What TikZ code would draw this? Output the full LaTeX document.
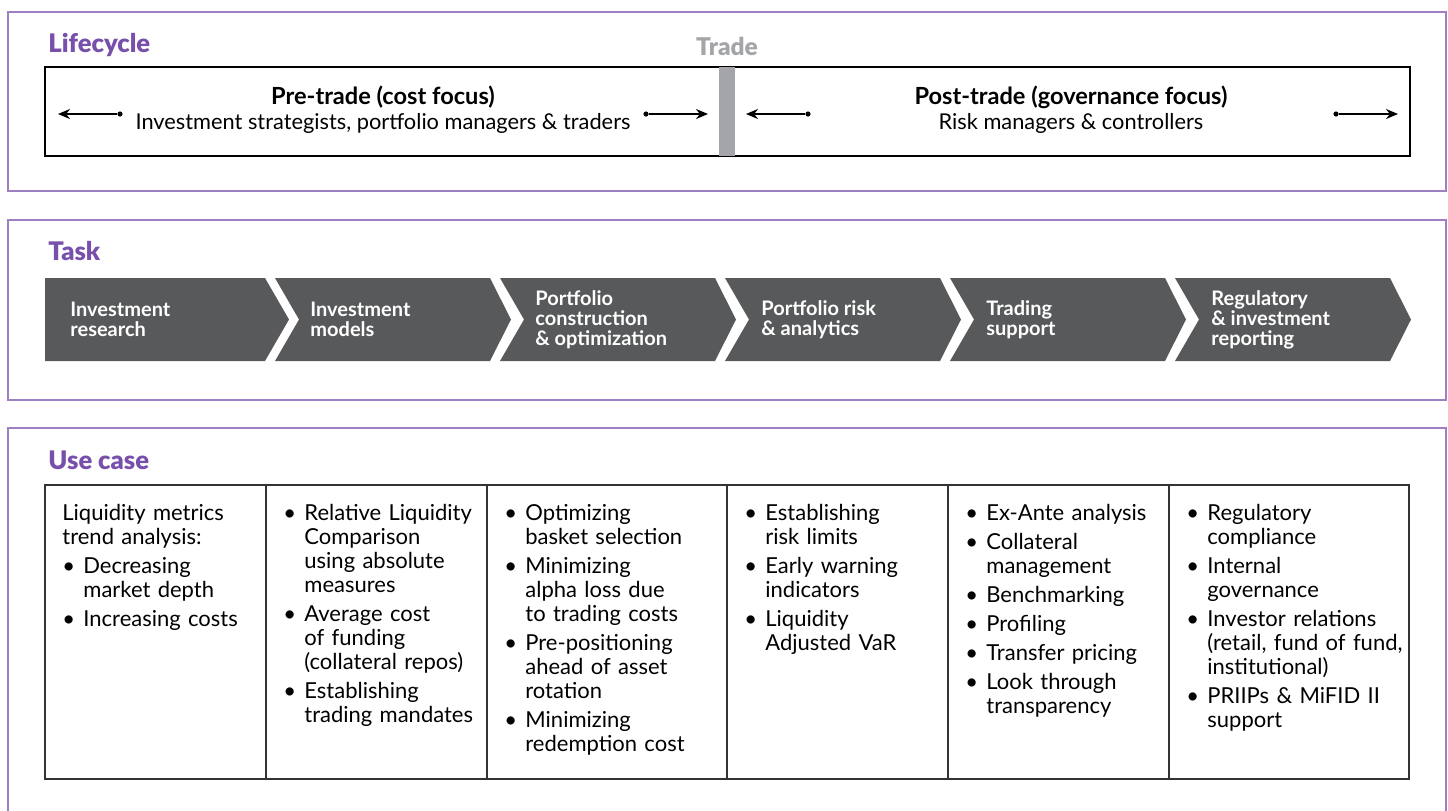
\documentclass[tikz,border=0pt]{standalone}
\usepackage{fontspec}
\setmainfont{Lato}
\newfontfamily\heavyfont{Lato Black}
\usetikzlibrary{arrows,arrows.meta,positioning}
\definecolor{ucpurple}{HTML}{7850AC}
\definecolor{ucframe}{HTML}{9C80C2}
\definecolor{ucgrey}{HTML}{A3A5A8}
\definecolor{ucchev}{HTML}{58595B}
\definecolor{ucline}{HTML}{333333}
\tikzstyle{Apanel}=[draw=ucframe,line width=0.75pt]
\tikzstyle{Ahead}=[anchor=base west,inner sep=0,text=ucpurple,font=\fontsize{12.8}{15}\selectfont\heavyfont]
\tikzstyle{Atrade}=[anchor=base,inner sep=0,text=ucgrey,font=\fontsize{12.2}{14}\selectfont\heavyfont]
\tikzstyle{Abox}=[draw=black,line width=0.6pt]
\tikzstyle{Aphase}=[align=center,inner sep=0,font=\fontsize{10.9}{12.5}\selectfont]
\tikzstyle{Adot}=[circle,fill=black,inner sep=0,minimum size=2.6pt]
\tikzstyle{lc}=[->,>={Stealth[length=6pt,width=5pt]},line width=0.75pt]
\tikzstyle{Achev}=[fill=ucchev]
\tikzstyle{Atask}=[anchor=west,align=left,inner sep=0,text=white,font=\fontsize{10}{10}\selectfont\bfseries]
\tikzstyle{Agrid}=[draw=ucline,line width=0.75pt]
\tikzstyle{Acell}=[anchor=north west,inner sep=0,text width=120pt,align=left,font=\fontsize{11}{12}\selectfont]
\newcommand{\fitem}[1]{\noindent\hangindent=10.5pt\hangafter=1\makebox[10.5pt][l]{\textbullet}#1\par}
\newcommand{\bitem}[1]{\vskip2.5pt\relax\fitem{#1}}
\begin{document}
\begin{tikzpicture}[x=0.5pt,y=-0.5pt]
  \useasboundingbox (0,0) rectangle (1448,810);
  % lifecycle
  \draw[Apanel] (8,12) rectangle (1446,191);
  \node[Ahead] (lifecycle) at (48,52) {Lifecycle};
  \node[Atrade] (trade) at (727,55) {Trade};
  \draw[Abox] (45,67) rectangle (1410,156);
  \fill[ucgrey] (719,67) rectangle (735,156);
  \node[Aphase] (pre) at (383,109.5) {{\fontsize{11.8}{12.5}\selectfont\bfseries Pre-trade (cost focus)}\\Investment strategists, portfolio managers \& traders};
  \node[Aphase] (post) at (1071,109.5) {{\fontsize{11.8}{12.5}\selectfont\bfseries Post-trade (governance focus)}\\Risk managers \& controllers};
  \node[Adot] (d1) at (120,114) {};
  \node[Adot] (d2) at (646,114) {};
  \node[Adot] (d3) at (808,114) {};
  \node[Adot] (d4) at (1336,114) {};
  \coordinate (h1) at (58,114);
  \coordinate (h2) at (708,114);
  \coordinate (h3) at (746,114);
  \coordinate (h4) at (1398,114);
  \foreach \i in {1,...,4}
    \draw[lc] (d\i) -- (h\i);
  % task
  \draw[Apanel] (8,220) rectangle (1446,400);
  \node[Ahead] (task) at (48,260) {Task};
  \fill[Achev] (45,278) -- (265,278) -- (289,319.5) -- (265,361) -- (45,361) -- cycle;
  \foreach \k in {1,...,5}{
    \pgfmathsetmacro\a{50+225*\k}
    \fill[Achev] (\a,278) -- (\a+215,278) -- (\a+236,319.5) -- (\a+215,361) -- (\a,361) -- (\a+24,319.5) -- cycle;
  }
  \foreach \k/\tx/\txt in {0/70/{Investment\\research},1/310/{Investment\\models},
      2/535/{Portfolio\\construction\\\& optimization},3/761/{Portfolio risk\\\& analytics},
      4/986/{Trading\\support},5/1211/{Regulatory\\\& investment\\reporting}}
    \node[Atask] (t\k) at (\tx,319.5) {\txt};
  % use case
  \draw[Apanel] (8,812) -- (8,428) -- (1446,428) -- (1446,812);
  \node[Ahead] (usecase) at (48,469) {Use case};
  \draw[Agrid] (45,485) rectangle (1409,779);
  \foreach \c in {266,487,727,948,1169}
    \draw[Agrid] (\c,485) -- (\c,779);
  \node[Acell] (u1) at (62,504) {Liquidity metrics\newline trend analysis:\par
    \bitem{Decreasing\newline market depth}
    \bitem{Increasing costs}};
  \node[Acell] (u2) at (283,504) {\fitem{Relative Liquidity\newline Comparison\newline using absolute\newline measures}
    \bitem{Average cost\newline of funding\newline (collateral repos)}
    \bitem{Establishing\newline trading mandates}};
  \node[Acell] (u3) at (504,504) {\fitem{Optimizing\newline basket selection}
    \bitem{Minimizing\newline alpha loss due\newline to trading costs}
    \bitem{Pre-positioning\newline ahead of asset\newline rotation}
    \bitem{Minimizing\newline redemption cost}};
  \node[Acell] (u4) at (744,504) {\fitem{Establishing\newline risk limits}
    \bitem{Early warning\newline indicators}
    \bitem{Liquidity\newline Adjusted VaR}};
  \node[Acell] (u5) at (965,504) {\fitem{Ex-Ante analysis}
    \bitem{Collateral\newline management}
    \bitem{Benchmarking}
    \bitem{Profiling}
    \bitem{Transfer pricing}
    \bitem{Look through\newline transparency}};
  \node[Acell] (u6) at (1186,504) {\fitem{Regulatory\newline compliance}
    \bitem{Internal\newline governance}
    \bitem{Investor relations\newline (retail, fund of fund,\newline institutional)}
    \bitem{PRIIPs \& MiFID II\newline support}};
\end{tikzpicture}
\end{document}
